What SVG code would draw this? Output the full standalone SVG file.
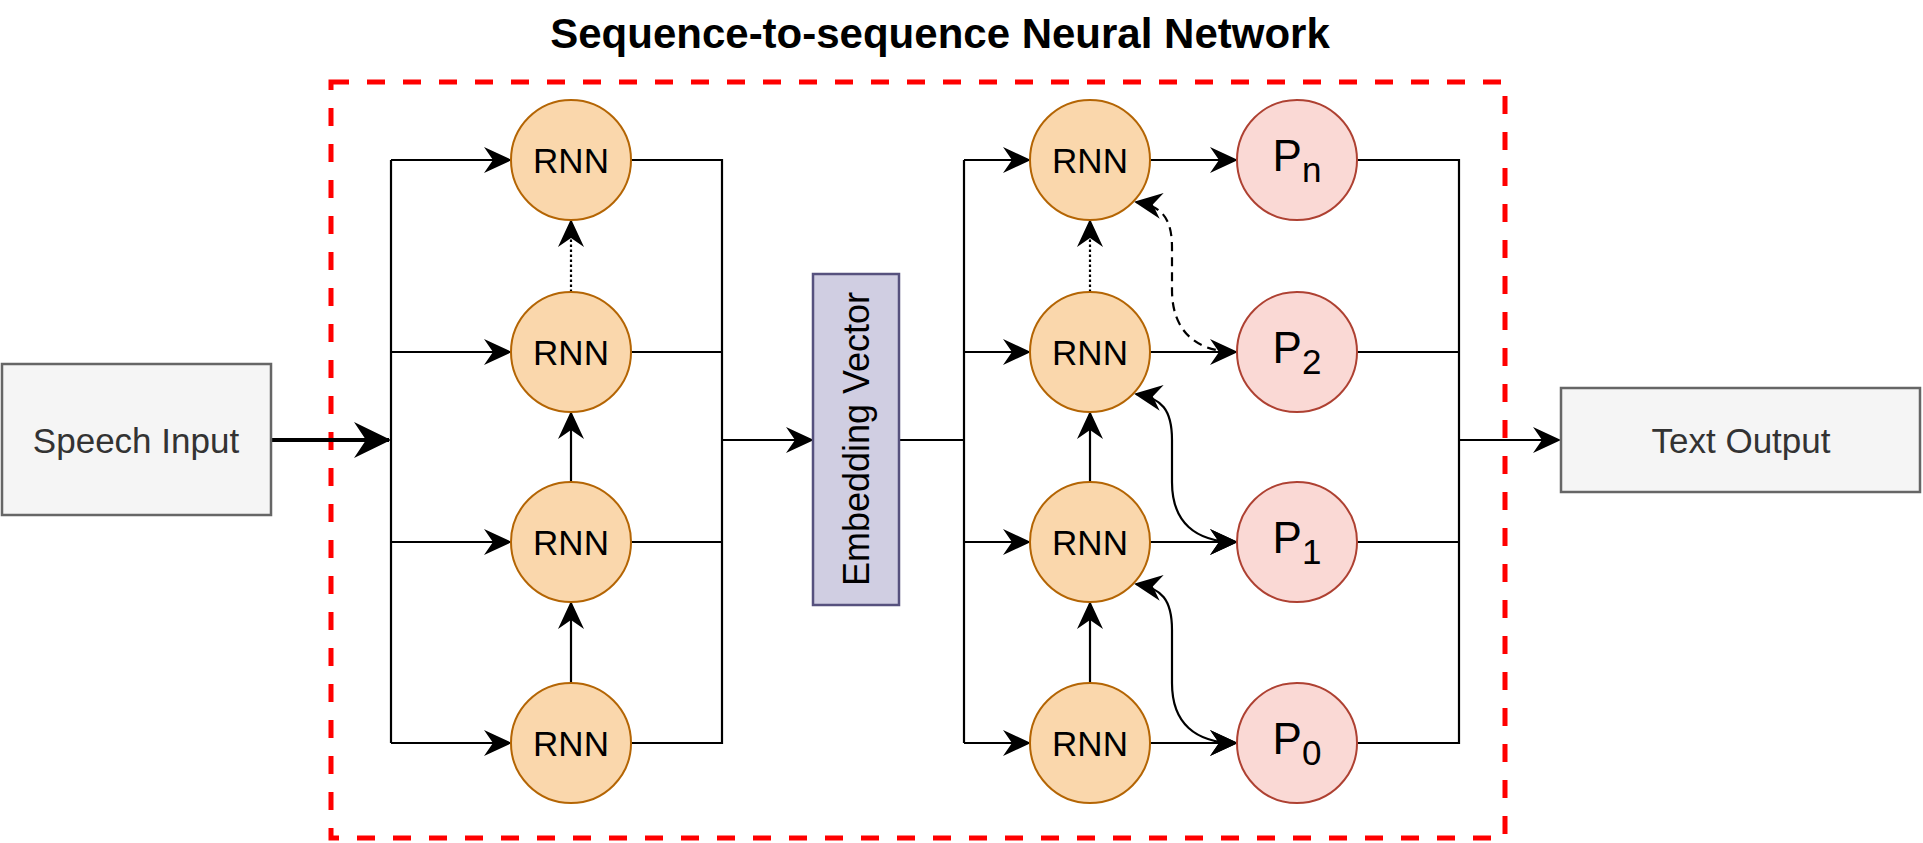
<svg xmlns="http://www.w3.org/2000/svg" width="1923" height="843" viewBox="0 0 1923 843">
<style>
  .t { font-family: "Liberation Sans", Arial, sans-serif; }
  .rnn ellipse { fill: #fad7ac; stroke: #b46504; stroke-width: 2; }
  .p ellipse { fill: #fad9d5; stroke: #ae4132; stroke-width: 2; }
  .lbl { font-family: "Liberation Sans", Arial, sans-serif; font-size: 35px; fill: #000; text-anchor: middle; }
  .plbl { font-family: "Liberation Sans", Arial, sans-serif; font-size: 44px; fill: #000; text-anchor: middle; }
  .io rect { fill: #f5f5f5; stroke: #666666; stroke-width: 2.5; }
  .io text { font-family: "Liberation Sans", Arial, sans-serif; font-size: 35px; fill: #333333; text-anchor: middle; }
  .c { fill: none; stroke: #000; stroke-width: 2.2; }
  .arr { marker-end: url(#a); }
  .dot { stroke-dasharray: 2.5 2.5; }
  .dash { stroke-dasharray: 9 6; }
</style>
<defs>
  <marker id="a" viewBox="0 0 28 26" refX="26" refY="13" markerWidth="28" markerHeight="26" markerUnits="userSpaceOnUse" orient="auto-start-reverse">
    <path d="M0,0 L28,13 L0,26 L9,13 Z" fill="#000"/>
  </marker>
  <marker id="big" viewBox="0 0 37 36" refX="35" refY="18" markerWidth="37" markerHeight="36" markerUnits="userSpaceOnUse" orient="auto">
    <path d="M0,0 L37,18 L0,36 L12,18 Z" fill="#000"/>
  </marker>
</defs>
<rect width="1923" height="843" fill="#ffffff"/>

<text id="title" class="t" x="940" y="48" font-size="42" font-weight="bold" text-anchor="middle" fill="#000">Sequence-to-sequence Neural Network</text>

<rect id="frame" x="331" y="82" width="1174" height="756" fill="none" stroke="#ff0000" stroke-width="5" stroke-dasharray="18 18"/>

<g id="connectors">
  <!-- input -->
  <path d="M271,440 L389,440" fill="none" stroke="#000" stroke-width="4" marker-end="url(#big)"/>
  <!-- left bus -->
  <path class="c" d="M391,160 L391,743"/>
  <path class="c arr" d="M391,160 L510,160"/>
  <path class="c arr" d="M391,352 L510,352"/>
  <path class="c arr" d="M391,542 L510,542"/>
  <path class="c arr" d="M391,743 L510,743"/>
  <!-- left vertical -->
  <path class="c arr" d="M571,683 L571,603"/>
  <path class="c arr" d="M571,482 L571,413"/>
  <path class="c arr dot" d="M571,292 L571,221"/>
  <!-- left outputs -->
  <path class="c" d="M631,160 L722,160 L722,743 L631,743"/>
  <path class="c" d="M631,352 L722,352"/>
  <path class="c" d="M631,542 L722,542"/>
  <path class="c arr" d="M722,440 L812,440"/>
  <!-- embedding to right bus -->
  <path class="c" d="M899,440 L964,440"/>
  <path class="c" d="M964,160 L964,743"/>
  <path class="c arr" d="M964,160 L1029,160"/>
  <path class="c arr" d="M964,352 L1029,352"/>
  <path class="c arr" d="M964,542 L1029,542"/>
  <path class="c arr" d="M964,743 L1029,743"/>
  <!-- right vertical -->
  <path class="c arr" d="M1090,683 L1090,603"/>
  <path class="c arr" d="M1090,482 L1090,413"/>
  <path class="c arr dot" d="M1090,292 L1090,221"/>
  <!-- RNN to P -->
  <path class="c arr" d="M1150,160 L1236,160"/>
  <path class="c arr" d="M1150,352 L1236,352"/>
  <path class="c arr" d="M1150,542 L1236,542"/>
  <path class="c arr" d="M1150,743 L1236,743"/>
  <!-- curves -->
  <path class="c dash" d="M1136,202 C1162,206 1172,218 1172,248 L1172,290 C1172,330 1195,352 1236,352" marker-start="url(#a)"/>
  <path class="c" d="M1136,394 C1162,398 1172,410 1172,440 L1172,482 C1172,522 1195,542 1236,542" marker-start="url(#a)" marker-end="url(#a)"/>
  <path class="c" d="M1136,584 C1162,588 1172,600 1172,630 L1172,683 C1172,723 1195,743 1236,743" marker-start="url(#a)" marker-end="url(#a)"/>
  <!-- P outputs -->
  <path class="c" d="M1357,160 L1459,160 L1459,743 L1357,743"/>
  <path class="c" d="M1357,352 L1459,352"/>
  <path class="c" d="M1357,542 L1459,542"/>
  <path class="c arr" d="M1459,440 L1559,440"/>
</g>

<g id="speech-input" class="io">
  <rect x="2" y="364" width="269" height="151"/>
  <text x="136" y="453" font-size="36">Speech Input</text>
</g>

<g id="text-output" class="io">
  <rect x="1561" y="388" width="359" height="104"/>
  <text x="1741" y="453">Text Output</text>
</g>

<g id="embedding">
  <rect x="813" y="274" width="86" height="331" fill="#d0cee2" stroke="#56517e" stroke-width="2.5"/>
  <text class="t" transform="translate(856,439) rotate(-90)" y="13" font-size="36" text-anchor="middle" fill="#000">Embedding Vector</text>
</g>

<g id="enc-rnn-3" class="rnn"><ellipse cx="571" cy="160" rx="60" ry="60"/><text class="lbl" x="571" y="173">RNN</text></g>
<g id="enc-rnn-2" class="rnn"><ellipse cx="571" cy="352" rx="60" ry="60"/><text class="lbl" x="571" y="365">RNN</text></g>
<g id="enc-rnn-1" class="rnn"><ellipse cx="571" cy="542" rx="60" ry="60"/><text class="lbl" x="571" y="555">RNN</text></g>
<g id="enc-rnn-0" class="rnn"><ellipse cx="571" cy="743" rx="60" ry="60"/><text class="lbl" x="571" y="756">RNN</text></g>

<g id="dec-rnn-3" class="rnn"><ellipse cx="1090" cy="160" rx="60" ry="60"/><text class="lbl" x="1090" y="173">RNN</text></g>
<g id="dec-rnn-2" class="rnn"><ellipse cx="1090" cy="352" rx="60" ry="60"/><text class="lbl" x="1090" y="365">RNN</text></g>
<g id="dec-rnn-1" class="rnn"><ellipse cx="1090" cy="542" rx="60" ry="60"/><text class="lbl" x="1090" y="555">RNN</text></g>
<g id="dec-rnn-0" class="rnn"><ellipse cx="1090" cy="743" rx="60" ry="60"/><text class="lbl" x="1090" y="756">RNN</text></g>

<g id="p-n" class="p"><ellipse cx="1297" cy="160" rx="60" ry="60"/><text class="plbl" x="1297" y="171">P<tspan font-size="35" dy="11">n</tspan></text></g>
<g id="p-2" class="p"><ellipse cx="1297" cy="352" rx="60" ry="60"/><text class="plbl" x="1297" y="363">P<tspan font-size="35" dy="11">2</tspan></text></g>
<g id="p-1" class="p"><ellipse cx="1297" cy="542" rx="60" ry="60"/><text class="plbl" x="1297" y="553">P<tspan font-size="35" dy="11">1</tspan></text></g>
<g id="p-0" class="p"><ellipse cx="1297" cy="743" rx="60" ry="60"/><text class="plbl" x="1297" y="754">P<tspan font-size="35" dy="11">0</tspan></text></g>
</svg>
